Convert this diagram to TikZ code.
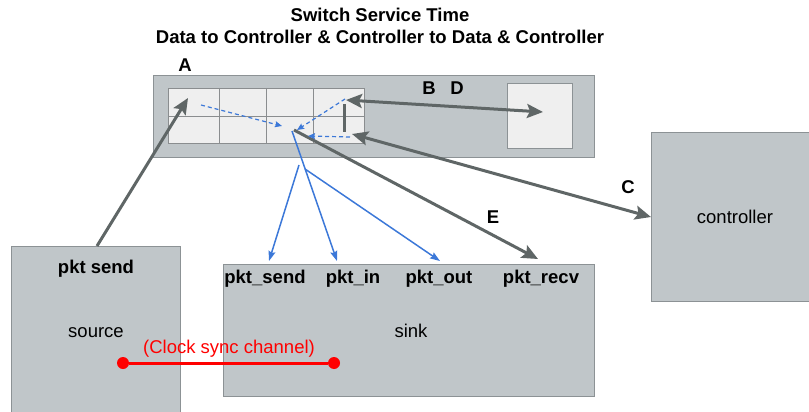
\documentclass[tikz,border=0pt]{standalone}
\usepackage{fontspec}
\setmainfont{Liberation Sans}
\usetikzlibrary{arrows.meta}

\definecolor{boxfill}{RGB}{192,198,201}
\definecolor{boxline}{RGB}{140,146,149}
\definecolor{gridfill}{RGB}{239,239,239}
\definecolor{gridline}{RGB}{138,141,143}
\definecolor{arrowgrey}{RGB}{95,102,102}
\definecolor{flowblue}{RGB}{60,120,216}
\definecolor{syncred}{RGB}{255,0,0}

\begin{document}
\begin{tikzpicture}[x=1pt,y=-1pt,
  font=\fontsize{18.5}{22}\selectfont,
  box/.style={draw=boxline, fill=boxfill, line width=1pt, inner sep=0pt, anchor=north west},
  cell/.style={draw=gridline, fill=gridfill, line width=1pt, inner sep=0pt, anchor=north west},
  txt/.style={anchor=base, inner sep=0pt},
  btxt/.style={txt, font=\fontsize{18.5}{22}\selectfont\bfseries},
  garrow/.style={draw=arrowgrey, line width=3pt, -{Stealth[length=16pt,width=14pt,inset=3pt]}},
  gdouble/.style={draw=arrowgrey, line width=3pt, {Stealth[length=16pt,width=14pt,inset=3pt]}-{Stealth[length=16pt,width=14pt,inset=3pt]}},
  bflow/.style={draw=flowblue, line width=1.5pt, -{Stealth[length=10pt,width=7pt,inset=1.5pt]}},
  bdash/.style={draw=flowblue, line width=1.2pt, dash pattern=on 4pt off 3pt, -{Stealth[length=7pt,width=6pt,inset=1pt]}},
  dot/.style={circle, fill=syncred, minimum size=12pt, inner sep=0pt}
]
\useasboundingbox (0,0) rectangle (809,412);
\clip (0,0) rectangle (809,412);

% title
\node[btxt] (title1) at (380,22) {Switch Service Time};
\node[btxt] (title2) at (380,44) {Data to Controller \& Controller to Data \& Controller};

% switch with its flow table and CPU
\node[box, minimum width=441pt, minimum height=82pt] (switch) at (153,75) {};
\node[cell, minimum width=196pt, minimum height=55pt] (table) at (168,88) {};
\draw[draw=gridline, line width=1pt] (219,88) -- (219,143) (266,88) -- (266,143)
  (313,88) -- (313,143) (168,116) -- (364,116);
\node[cell, draw=boxline, minimum width=65pt, minimum height=65pt] (cpu) at (507,83) {};

% end hosts and controller
\node[box, minimum width=169pt, minimum height=180pt] (source) at (11,246) {};
\node[box, minimum width=371pt, minimum height=132pt] (sink) at (223,264) {};
\node[box, minimum width=158pt, minimum height=169pt] (controller) at (651,132) {};

% texts
\node[btxt] (lblA) at (185,71) {A};
\node[btxt] (lblB) at (429,95) {B};
\node[btxt] (lblD) at (457,95) {D};
\node[btxt] (lblC) at (628,193) {C};
\node[btxt] (lblE) at (493,223) {E};
\node[btxt] (pktsendsrc) at (96,273) {pkt send};
\node[txt] (srcname) at (96,337) {source};
\node[btxt] (tsend) at (265,283) {pkt\_send};
\node[btxt] (tin) at (353,283) {pkt\_in};
\node[btxt] (tout) at (439,283) {pkt\_out};
\node[btxt] (trecv) at (541,283) {pkt\_recv};
\node[txt] (sinkname) at (411,337) {sink};
\node[txt] (ctlname) at (735,223) {controller};
\node[txt, text=syncred] (synclbl) at (229,353) {(Clock sync channel)};

% ports and junctions
\coordinate (srcport) at (97,246);
\coordinate (entryA) at (188,98);
\coordinate (ctlport) at (346,100);
\coordinate (cpuport) at (543,112);
\coordinate (retport) at (352,134);
\coordinate (hub) at (294,130);
\coordinate (recvport) at (538,259);
\coordinate (holdtop) at (344,104);
\coordinate (holdbot) at (344,132);

% grey packet paths
\draw[garrow] (srcport) -- (entryA);
\draw[gdouble] (ctlport) -- (cpuport);
\draw[draw=arrowgrey, line width=3pt] (holdtop) -- (holdbot);
\draw[gdouble] (retport) -- (controller.west);
\draw[garrow] (hub) -- (recvport);

% blue timestamp flows
\coordinate (d1a) at (201,105);
\coordinate (d1b) at (282,126);
\coordinate (d2a) at (345,99);
\coordinate (d2b) at (297,130);
\coordinate (d3a) at (350,137);
\coordinate (d3b) at (308,136);
\draw[bdash] (d1a) -- (d1b);
\draw[bdash] (d2a) -- (d2b);
\draw[bdash] (d3a) -- (d3b);

\coordinate (bhub) at (292,131);
\coordinate (bsplit) at (305,169);
\coordinate (bsend) at (299,165);
\coordinate (tipsend) at (269,261);
\coordinate (tipin) at (337,261);
\coordinate (tipout) at (440,261);
\draw[bflow] (bhub) -- (tipin);
\draw[bflow] (bsend) -- (tipsend);
\draw[bflow] (bsplit) -- (tipout);

% clock synchronisation channel
\node[dot] (clkA) at (123,363) {};
\node[dot] (clkB) at (334,363) {};
\draw[draw=syncred, line width=3pt] (clkA) -- (clkB);
\end{tikzpicture}
\end{document}
